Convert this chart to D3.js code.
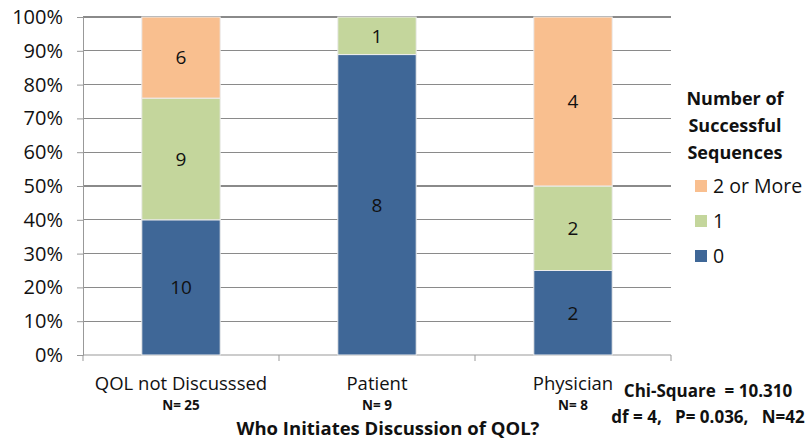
<!DOCTYPE html>
<html><head><meta charset="utf-8">
<script src="https://cdn.jsdelivr.net/npm/d3@7"></script>
<style>body{margin:0;background:#fff;} svg{display:block;}</style>
</head><body>
<svg id="c" width="809" height="440"></svg>
<script>
const categories = ["QOL not Discusssed", "Patient", "Physician"];
const nLabels = ["N= 25", "N= 9", "N= 8"];
const seriesNames = ["0", "1", "2 or More"];
const zeroSeq = [10, 8, 2];
const oneSeq = [9, 1, 2];
const twoPlusSeq = [6, 0, 4];
const yTicks = [0, 0.1, 0.2, 0.3, 0.4, 0.5, 0.6, 0.7, 0.8, 0.9, 1.0];
const colors = ["#3F6797", "#C4D69C", "#F9BF8F"];
const legendTitle = ["Number of", "Successful", "Sequences"];
const statLines = ["Chi-Square  = 10.310", "df = 4,   P= 0.036,   N=42"];
const xTitle = "Who Initiates Discussion of QOL?";

const font = "'Open Sans', sans-serif";
const svg = d3.select("#c");
const L = 83, R = 671, T = 17, B = 355;

const x = d3.scaleBand().domain(categories).range([L, R]).paddingInner(0.6).paddingOuter(0.3);
const y = d3.scaleLinear().domain([0, 1]).range([B, T]);

const rows = categories.map((c, i) => {
  const vals = [zeroSeq[i], oneSeq[i], twoPlusSeq[i]];
  const tot = d3.sum(vals);
  const o = {cat: c};
  seriesNames.forEach((s, j) => o[s] = vals[j] / tot);
  o.raw = vals;
  return o;
});
const stack = d3.stack().keys(seriesNames)(rows);

// gridlines
svg.append("g").selectAll("line").data(yTicks.slice(1)).join("line")
  .attr("x1", L).attr("x2", R).attr("y1", d => y(d)).attr("y2", d => y(d))
  .attr("stroke", "#8a8a8a").attr("stroke-width", 1.2).attr("shape-rendering", "crispEdges");

// y axis
const yAxis = svg.append("g").attr("transform", `translate(${L},0)`)
  .call(d3.axisLeft(y).tickValues(yTicks).tickFormat(d3.format(".0%")).tickSize(6).tickPadding(14));
yAxis.select(".domain").attr("stroke", "#999");
yAxis.selectAll(".tick line").attr("stroke", "#999");
yAxis.selectAll("text").attr("font-family", font).attr("font-size", 20).attr("fill", "#111");

// x axis
const xAxis = svg.append("g").attr("transform", `translate(0,${B})`);
xAxis.append("line").attr("x1", L).attr("x2", R).attr("stroke", "#999");
const bounds = d3.range(categories.length + 1).map(i => L + i * (R - L) / categories.length);
xAxis.selectAll("line.tk").data(bounds).join("line").attr("class", "tk")
  .attr("x1", d => d).attr("x2", d => d).attr("y1", 0).attr("y2", 6).attr("stroke", "#999");

// bars
const g = svg.append("g");
stack.forEach((layer, j) => {
  g.selectAll(null).data(layer).join("rect")
    .attr("x", d => x(d.data.cat)).attr("width", x.bandwidth())
    .attr("y", d => y(d[1])).attr("height", d => y(d[0]) - y(d[1]))
    .attr("fill", colors[j]).attr("stroke", "#ececec").attr("stroke-width", 1)
    .attr("display", d => d[1] - d[0] > 0 ? null : "none");
  g.selectAll(null).data(layer.filter(d => d[1] - d[0] > 0)).join("text")
    .attr("x", d => x(d.data.cat) + x.bandwidth() / 2)
    .attr("y", d => (y(d[0]) + y(d[1])) / 2)
    .attr("dy", "0.36em").attr("text-anchor", "middle")
    .attr("font-family", font).attr("font-size", 19).attr("fill", "#111")
    .text(d => d.data.raw[j]);
});

// category labels
const lbl = svg.append("g");
categories.forEach((c, i) => {
  const cx = x(c) + x.bandwidth() / 2;
  lbl.append("text").attr("x", cx).attr("y", 390).attr("text-anchor", "middle")
    .attr("font-family", font).attr("font-size", 18.5).attr("fill", "#111").text(c);
  lbl.append("text").attr("x", cx).attr("y", 410).attr("text-anchor", "middle")
    .attr("font-family", font).attr("font-size", 13.5).attr("font-weight", "bold").attr("fill", "#111").text(nLabels[i]);
});
svg.append("text").attr("x", 388).attr("y", 435).attr("text-anchor", "middle")
  .attr("font-family", font).attr("font-size", 18.5).attr("font-weight", "bold").attr("fill", "#111").text(xTitle);

// stats
statLines.forEach((s, i) => {
  svg.append("text").attr("x", 708).attr("y", 397 + i * 26).attr("text-anchor", "middle")
    .attr("font-family", font).attr("font-size", 17).attr("font-weight", "bold").attr("fill", "#111")
    .attr("xml:space", "preserve").style("white-space", "pre").text(s);
});

// legend
const lg = svg.append("g");
legendTitle.forEach((t, i) => {
  lg.append("text").attr("x", 735).attr("y", 105 + i * 27).attr("text-anchor", "middle")
    .attr("font-family", font).attr("font-size", 18).attr("font-weight", "bold").attr("fill", "#111").text(t);
});
const legOrder = [2, 1, 0];
legOrder.forEach((j, k) => {
  const yy = 186 + k * 35;
  lg.append("rect").attr("x", 695).attr("y", yy - 6).attr("width", 12).attr("height", 12).attr("fill", colors[j]);
  lg.append("text").attr("x", 713).attr("y", yy).attr("dy", "0.36em")
    .attr("font-family", font).attr("font-size", 19.5).attr("fill", "#111").text(seriesNames[j]);
});
</script>
</body></html>
